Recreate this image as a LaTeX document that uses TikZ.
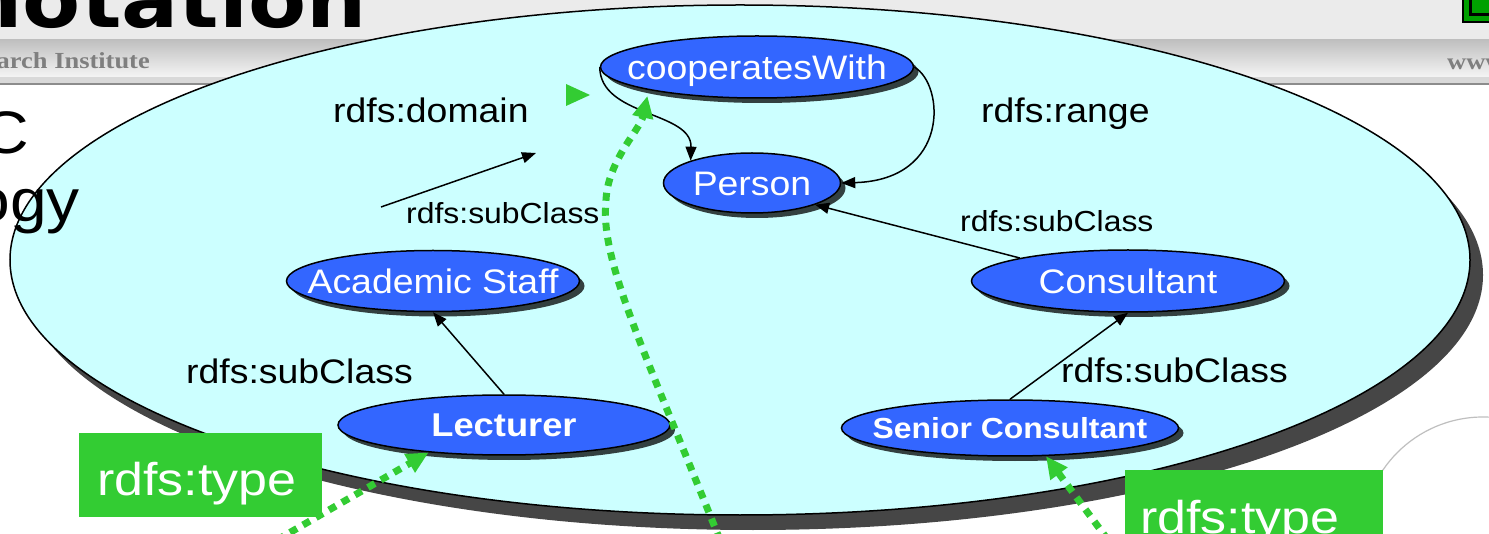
\documentclass[tikz,border=0pt]{standalone}
\usepackage{fontspec}
\usepackage{graphicx}
\setmainfont{Liberation Sans}
\newfontfamily\titlefont{DejaVu Sans}
\newfontfamily\serifhdr{Liberation Serif}
\usetikzlibrary{shapes.geometric,arrows.meta,shadows}

\definecolor{skyfill}{HTML}{CCFFFF}
\definecolor{classblue}{HTML}{3366FF}
\definecolor{typegreen}{HTML}{33CC33}
\definecolor{deepshadow}{HTML}{464646}
\definecolor{bandgray}{HTML}{EBEBEB}
\definecolor{hdrtext}{HTML}{7F7F7F}
\definecolor{icongreen}{HTML}{00A000}

% slightly widened lettering
\newcommand{\wide}[1]{\scalebox{1.1}[1]{#1}}
% label centred on its capitals, taking no room of its own
\newcommand{\ctext}[1]{\makebox[0pt]{\smash{\raisebox{-0.36em}{\wide{#1}}}}}

\tikzset{
  ontology/.style={ellipse, draw=black, line width=1.5pt, fill=skyfill,
    inner sep=0pt, minimum width=1460pt, minimum height=510pt,
    drop shadow={shadow xshift=13pt, shadow yshift=-15pt, fill=deepshadow, opacity=1}},
  cls/.style={ellipse, draw=black, line width=1.5pt, fill=classblue, text=white,
    inner sep=0pt, font=\fontsize{34}{40}\selectfont,
    drop shadow={shadow xshift=5pt, shadow yshift=-5pt, fill=black, opacity=0.75}},
  clsbold/.style={cls, font=\bfseries\fontsize{#1}{#1}\selectfont},
  rel/.style={-{Triangle[length=14pt,width=11pt]}, line width=1.5pt, black},
  typeof/.style={-{Triangle[length=22pt,width=20pt]}, line width=7pt, typegreen,
    dash pattern=on 8pt off 7pt},
  edgelab/.style={anchor=base west, inner sep=0pt, font=\fontsize{34}{40}\selectfont},
  smalllab/.style={edgelab, font=\fontsize{29}{34}\selectfont},
  typebox/.style={fill=typegreen, draw=none, inner sep=0pt, anchor=north west},
  typetext/.style={anchor=base west, inner sep=0pt, text=white,
    font=\fontsize{46}{50}\selectfont},
  hdrlab/.style={inner sep=0pt, text=hdrtext, font=\serifhdr\bfseries\fontsize{23}{26}\selectfont},
  slidetext/.style={anchor=base east, inner sep=0pt, font=\fontsize{60}{66}\selectfont}
}

\begin{document}
\begin{tikzpicture}[x=1pt,y=-1pt]
\useasboundingbox (0,0) rectangle (1489,534);
\clip (0,0) rectangle (1489,534);

% slide header bands
\fill[white] (0,0) rectangle (1489,534);
\fill[bandgray] (0,0) rectangle (1489,39);
\draw[white, line width=1pt] (0,39.5) -- (1489,39.5);
\shade[top color=black!25, bottom color=black!4] (0,40) rectangle (1489,77);
\fill[black!15] (0,77) rectangle (1489,83);
\draw[black!45, line width=1.5pt] (0,84) -- (1489,84);

\node[anchor=base east, inner sep=0pt,
      font=\titlefont\bfseries\fontsize{77}{80}\selectfont] (title) at (367,28) {\wide{notation}};
\node[hdrlab, anchor=base east] (inst) at (150,69) {\scalebox{1.15}[1]{arch Institute}};
\node[hdrlab, anchor=base west] (url) at (1447,70) {\scalebox{1.15}[1]{www}};

% logo corner
\fill[icongreen] (1463,-3) rectangle (1495,22);
\draw[black, line width=1.5pt] (1463,-3) rectangle (1495,22);
\draw[black, line width=3pt] (1470,-3) -- (1470,15) -- (1495,15);

% ontology area
\node[ontology] (onto) at (740,260) {};

\node[slidetext] (lineA) at (29,154) {\wide{C}};
\node[slidetext] (lineB) at (80,222) {\wide{ogy}};

% classes and property
\node[cls, minimum width=313pt, minimum height=62pt] (cw) at (757,67) {\ctext{cooperatesWith}};
\node[cls, minimum width=177pt, minimum height=60pt] (person) at (752,183) {\ctext{Person}};
\node[cls, minimum width=293pt, minimum height=61pt] (acad) at (433,281) {\ctext{Academic Staff}};
\node[cls, minimum width=313pt, minimum height=62pt] (consultant) at (1128,281) {\ctext{Consultant}};
\node[clsbold=33, minimum width=332pt, minimum height=60pt] (lecturer) at (504,425) {\ctext{Lecturer}};
\node[clsbold=29, minimum width=337pt, minimum height=56pt] (sc) at (1010,428) {\ctext{Senior Consultant}};

% schema relations
\draw[rel] (cw.west) .. controls (600,117) and (692,111) .. (person.160);
\draw[rel] (cw.east) .. controls (945,85) and (950,180) .. (person.east);
\draw[rel] (consultant.168) -- (person.-19);
\draw[rel] (lecturer.north) -- (acad.south);
\draw[rel] (sc.north) -- (consultant.south);
\coordinate (subfrom) at (381,207);
\coordinate (subto) at (536,153);
\draw[rel] (subfrom) -- (subto);

\node[edgelab] (ldomain) at (333,123) {\wide{rdfs:domain}};
\node[edgelab] (lrange) at (981,123) {\wide{rdfs:range}};
\node[smalllab] (lsubA) at (406,224) {\wide{rdfs:subClass}};
\node[smalllab] (lsubB) at (960,232) {\wide{rdfs:subClass}};
\node[edgelab] (lsubC) at (186,384) {\wide{rdfs:subClass}};
\node[edgelab] (lsubD) at (1061,383) {\wide{rdfs:subClass}};

% loose arrow tip
\fill[typegreen] (566,84) -- (590,95) -- (566,106) -- cycle;

% neighbouring shape in the corner
\draw[black!25, line width=1.2pt] (1483,538) circle [radius=121];

% instance links
\node[typebox, minimum width=243pt, minimum height=84pt] (typeL) at (79,433) {};
\node[typetext] (typeLtext) at (97,495) {\scalebox{1.13}[1]{rdfs:type}};
\node[typebox, minimum width=258pt, minimum height=84pt] (typeR) at (1125,470) {};
\node[typetext] (typeRtext) at (1140,533) {\scalebox{1.13}[1]{rdfs:type}};

\coordinate (fromL) at (277,540);
\coordinate (fromM) at (720,540);
\coordinate (fromR) at (1108,540);
\draw[typeof] (fromL) -- (lecturer.200);
\draw[typeof] (fromR) -- (sc.-38);
\draw[typeof, shorten >=6pt] (fromM) .. controls (640,340) and (600,260) .. (606,200)
  .. controls (608,160) and (640,130) .. (cw.192);
\end{tikzpicture}
\end{document}
